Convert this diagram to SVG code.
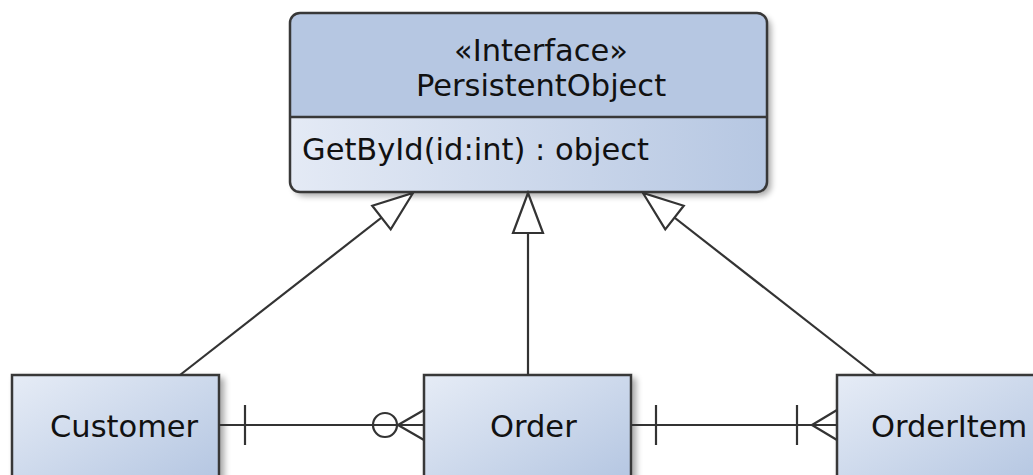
<svg xmlns="http://www.w3.org/2000/svg" width="1033" height="475" viewBox="0 0 1033 475">
  <style>
    .box { stroke: #383838; stroke-width: 2.5; }
    .lbl { font-family: "DejaVu Sans", "Liberation Sans", sans-serif; font-size: 30.5px; fill: #111; }
    .edge { fill: none; stroke: #333; stroke-width: 2.2; }
  </style>
  <defs>
    <linearGradient id="fillGrad" x1="0" y1="0" x2="1" y2="1">
      <stop offset="0" stop-color="#e6ecf6"/>
      <stop offset="1" stop-color="#b3c5e1"/>
    </linearGradient>
    <linearGradient id="compGrad" x1="0" y1="0" x2="1" y2="0">
      <stop offset="0" stop-color="#e4eaf5"/>
      <stop offset="1" stop-color="#b6c7e2"/>
    </linearGradient>
    <filter id="shadow" x="-10%" y="-10%" width="130%" height="130%">
      <feGaussianBlur in="SourceAlpha" stdDeviation="3"/>
      <feOffset dx="4" dy="4" result="off"/>
      <feComponentTransfer><feFuncA type="linear" slope="0.35"/></feComponentTransfer>
      <feMerge><feMergeNode/><feMergeNode in="SourceGraphic"/></feMerge>
    </filter>
    <marker id="inherit" viewBox="-2 -18 44 36" refX="40" refY="0" markerWidth="44" markerHeight="36" markerUnits="userSpaceOnUse" orient="auto" overflow="visible">
      <path d="M0,-15 L40,0 L0,15 Z" fill="#fff" stroke="#333" stroke-width="2.2" stroke-linejoin="miter"/>
    </marker>
  </defs>

  <rect width="1033" height="475" fill="#fff"/>

  <!-- interface PersistentObject -->
  <g id="persistent-object">
    <rect x="290" y="13" width="477" height="179" rx="10" fill="#b6c7e2" filter="url(#shadow)"/>
    <path d="M290,117 H767 V182 A10,10 0 0 1 757,192 H300 A10,10 0 0 1 290,182 Z" fill="url(#compGrad)"/>
    <rect class="box" x="290" y="13" width="477" height="179" rx="10" fill="none"/>
    <line class="box" x1="290" y1="117" x2="767" y2="117"/>
    <text class="lbl" x="541" y="61" text-anchor="middle">«Interface»</text>
    <text class="lbl" x="541" y="96" text-anchor="middle">PersistentObject</text>
    <text class="lbl" x="302" y="160">GetById(id:int) : object</text>
  </g>

  <!-- entities -->
  <g id="customer">
    <rect class="box" x="12" y="375" width="207" height="112" fill="url(#fillGrad)" filter="url(#shadow)"/>
    <text class="lbl" x="50" y="437">Customer</text>
  </g>
  <g id="order">
    <rect class="box" x="424" y="375" width="207" height="112" fill="url(#fillGrad)" filter="url(#shadow)"/>
    <text class="lbl" x="490" y="437">Order</text>
  </g>
  <g id="order-item">
    <rect class="box" x="837" y="375" width="207" height="112" fill="url(#fillGrad)" filter="url(#shadow)"/>
    <text class="lbl" x="871" y="437">OrderItem</text>
  </g>

  <!-- connectors -->
  <g id="connectors">
    <!-- realisations of the interface -->
    <path class="edge" d="M180,375 L413,193" marker-end="url(#inherit)"/>
    <path class="edge" d="M528,375 L528,193" marker-end="url(#inherit)"/>
    <path class="edge" d="M876,375 L643,193" marker-end="url(#inherit)"/>

    <!-- Customer exactly one, Order zero or many -->
    <path class="edge" d="M219,425 H424"/>
    <path class="edge" d="M245,405 V445"/>
    <circle class="edge" cx="385" cy="425" r="12" fill="#fff"/>
    <path class="edge" d="M398,425 L424,410 M398,425 L424,440"/>

    <!-- Order exactly one, OrderItem one or many -->
    <path class="edge" d="M631,425 H837"/>
    <path class="edge" d="M656,405 V445"/>
    <path class="edge" d="M797,405 V445"/>
    <path class="edge" d="M812,425 L837,410 M812,425 L837,440"/>
  </g>
</svg>
